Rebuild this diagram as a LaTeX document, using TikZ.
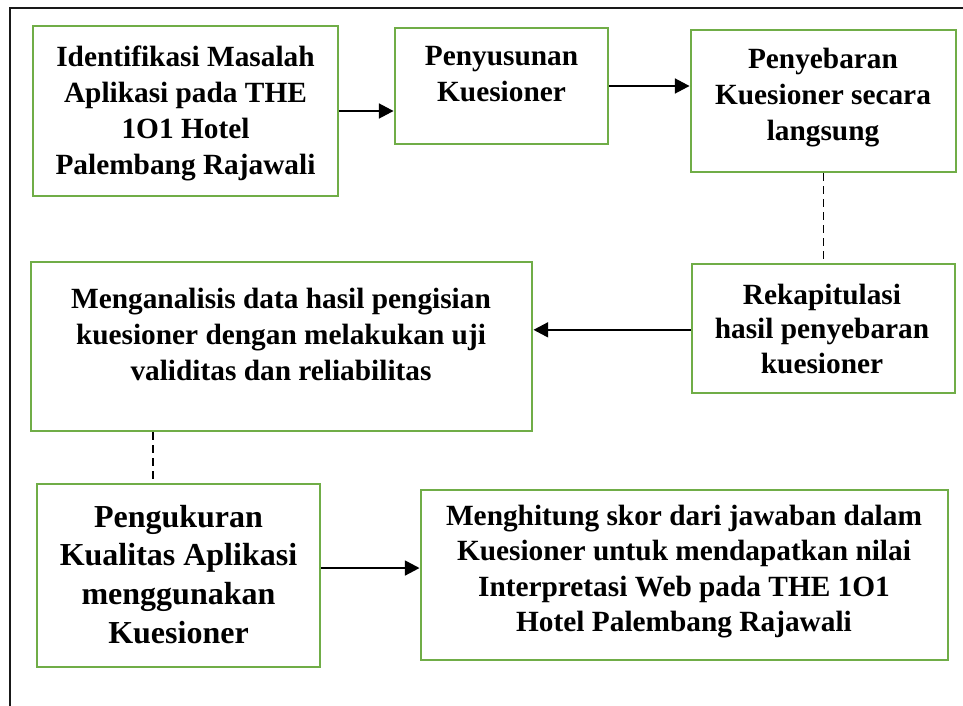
\documentclass[tikz,border=0pt]{standalone}
\usepackage{fontspec}
\setmainfont{Liberation Serif}
\usetikzlibrary{arrows.meta,fit}
\definecolor{boxgreen}{HTML}{70AD47}
\newcommand\fl{\rule{0pt}{18pt}}
\tikzset{
  gbox/.style={draw=boxgreen, line width=2.1pt, rectangle, inner sep=0pt},
  txt/.style={anchor=north, inner sep=0pt, align=center, font=\fontsize{22pt}{27pt}\selectfont\bfseries},
  flow/.style={line width=1.9pt, -{Triangle[length=11pt,width=11pt]}},
  dashline/.style={line width=1pt, dash pattern=on 6pt off 3.75pt},
  frameline/.style={line width=2pt, black!90}
}
\begin{document}
\begin{tikzpicture}[x=0.75pt,y=-0.75pt]
\useasboundingbox (0,0) rectangle (963,706);
% frame
\draw[frameline] (10,720) -- (10,8) -- (970,8);
% boxes
\node[gbox, fit={(33,26)(338,196)}] (b1) {};
\node[gbox, fit={(395,28)(608,144)}] (b2) {};
\node[gbox, fit={(691,30)(956,172)}] (b3) {};
\node[gbox, fit={(692,264)(955,393)}] (b4) {};
\node[gbox, fit={(31,262)(532,431)}] (b5) {};
\node[gbox, fit={(37,484)(320,667)}] (b6) {};
\node[gbox, fit={(421,490)(948,660)}] (b7) {};
% texts
\node[txt] (t1) at (185.5,42) {\fl Identifikasi Masalah\\Aplikasi pada THE\\1O1 Hotel\\Palembang Rajawali};
\node[txt] (t2) at (501.5,41.5) {\fl Penyusunan\\Kuesioner};
\node[txt] (t3) at (823,44) {\fl Penyebaran\\Kuesioner secara\\langsung};
\node[txt, font=\fontsize{22pt}{26pt}\selectfont\bfseries] (t4) at (822,280) {\fl Rekapitulasi\\hasil penyebaran\\kuesioner};
\node[txt] (t5) at (281,284) {\fl Menganalisis data hasil pengisian\\kuesioner dengan melakukan uji\\validitas dan reliabilitas};
\node[txt, font=\fontsize{24pt}{29pt}\selectfont\bfseries] (t6) at (178.5,503) {\fl Pengukuran\\Kualitas Aplikasi\\menggunakan\\Kuesioner};
\node[txt, font=\fontsize{22pt}{26.6pt}\selectfont\bfseries] (t7) at (684,501) {\fl Menghitung skor dari jawaban dalam\\Kuesioner untuk mendapatkan nilai\\Interpretasi Web pada THE 1O1\\Hotel Palembang Rajawali};
% connectors
\coordinate (d2) at (153,440);
\draw[flow] (b1.east) -- (b1.east -| b2.west);
\draw[flow] (b2.east) -- (b2.east -| b3.west);
\draw[dashline] (b3.south) -- (b4.north);
\draw[flow] ([yshift=-1pt]b4.west) -- ([yshift=-1pt]b4.west -| b5.east);
\draw[dashline] (b5.south -| d2) -- (b6.north -| d2);
\draw[flow] ([yshift=5.6pt]b6.east) -- ([yshift=5.6pt]b6.east -| b7.west);
\end{tikzpicture}
\end{document}
